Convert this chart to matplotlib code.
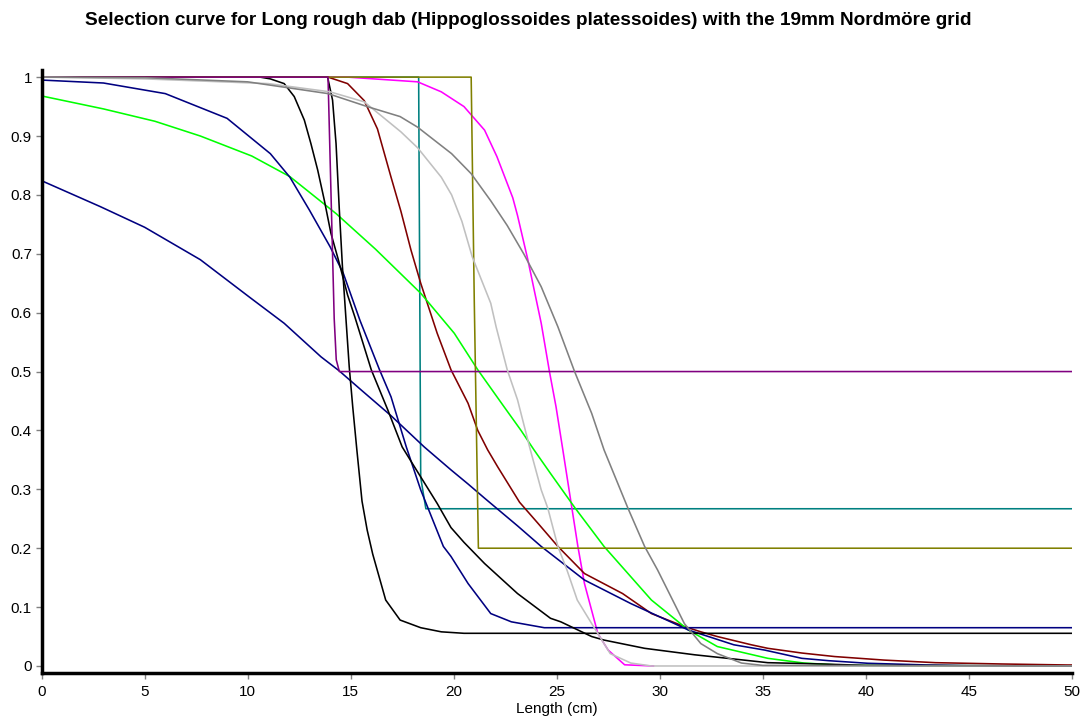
import matplotlib
matplotlib.use('Agg')
import matplotlib.pyplot as plt

plt.rcParams['font.family'] = ['Liberation Sans', 'DejaVu Sans']

# Werte (Laenge in cm, Anteil)
navy_hi_x = [0, 3, 6, 9, 11.1, 12.05, 13.0, 14.0, 14.64, 15.45, 16.4, 16.96, 17.7, 18.4, 19.5, 19.87, 20.7, 21.8, 22.8, 24.4, 50]
navy_hi_y = [0.995, 0.99, 0.972, 0.93, 0.87, 0.83, 0.774, 0.712, 0.667, 0.587, 0.503, 0.457, 0.372, 0.299, 0.203, 0.186, 0.14, 0.089, 0.075, 0.065, 0.065]

navy_lo_x = [0, 2.85, 5, 7.7, 10.1, 11.77, 13.56, 14.45, 15.5, 16.96, 18.57, 19.87, 20.7, 21.5, 23.1, 24.25, 26.35, 28.6, 31.4, 33.6, 35.1, 36.9, 38.2, 40.1, 43.0, 45, 50]
navy_lo_y = [0.824, 0.78, 0.745, 0.69, 0.626, 0.582, 0.525, 0.501, 0.469, 0.425, 0.372, 0.333, 0.309, 0.285, 0.238, 0.203, 0.146, 0.106, 0.061, 0.036, 0.027, 0.013, 0.009, 0.0046, 0.0017, 0.0005, 0]

green_x = [0, 3, 5.5, 7.7, 10.2, 12.05, 14.3, 16.2, 18.4, 20.03, 21.17, 22.45, 23.27, 23.9, 24.7, 25.9, 27.3, 29.6, 31.4, 32.8, 35.25, 37, 39, 50]
green_y = [0.968, 0.946, 0.925, 0.9, 0.866, 0.831, 0.768, 0.708, 0.633, 0.565, 0.503, 0.44, 0.40, 0.367, 0.327, 0.268, 0.203, 0.112, 0.061, 0.033, 0.013, 0.005, 0.001, 0]

blackA_x = [0, 10.6, 11.1, 11.77, 12.26, 12.75, 13.07, 13.4, 13.72, 14.04, 14.4, 14.85, 15.2, 16.0, 16.8, 17.5, 18.1, 19.2, 19.87, 20.5, 21.5, 23.1, 24.7, 25.2, 26.7, 27.3, 29.27, 31.7, 33.3, 35.25, 37.85, 40, 50]
blackA_y = [1, 1, 0.997, 0.989, 0.967, 0.927, 0.887, 0.842, 0.791, 0.735, 0.69, 0.63, 0.593, 0.503, 0.435, 0.372, 0.338, 0.276, 0.235, 0.21, 0.174, 0.123, 0.081, 0.075, 0.05, 0.044, 0.030, 0.019, 0.013, 0.0056, 0.0034, 0.001, 0]

blackB_x = [0, 13.88, 14.12, 14.29, 14.45, 14.6, 14.77, 14.93, 15.1, 15.3, 15.55, 15.8, 16.07, 16.7, 17.4, 18.4, 19.4, 20.5, 50]
blackB_y = [1, 1, 0.961, 0.887, 0.774, 0.678, 0.59, 0.508, 0.44, 0.367, 0.28, 0.231, 0.19, 0.112, 0.078, 0.065, 0.058, 0.0555, 0.0555]

darkred_x = [0, 13.9, 14.85, 15.66, 16.3, 16.96, 17.44, 17.93, 18.4, 19.2, 19.87, 20.7, 21.17, 21.65, 22.14, 23.2, 24.1, 25.06, 26.35, 28.2, 29.6, 31.2, 32.0, 32.8, 34.45, 35.25, 36.9, 38.5, 40.9, 43.4, 46.6, 49.8, 50]
darkred_y = [1, 1, 0.989, 0.96, 0.912, 0.83, 0.772, 0.706, 0.65, 0.565, 0.503, 0.446, 0.40, 0.367, 0.338, 0.278, 0.242, 0.203, 0.157, 0.123, 0.089, 0.067, 0.058, 0.050, 0.036, 0.030, 0.022, 0.016, 0.010, 0.0056, 0.0034, 0.0017, 0.0017]

grey_x = [0, 5, 10, 13.9, 15.8, 17.4, 18.25, 19.9, 20.85, 21.8, 22.6, 23.4, 24.25, 25.06, 25.87, 26.7, 27.3, 28.46, 29.27, 29.9, 31.2, 32.0, 32.8, 33.97, 35, 50]
grey_y = [1, 0.999, 0.992, 0.972, 0.95, 0.933, 0.915, 0.87, 0.836, 0.79, 0.748, 0.70, 0.644, 0.576, 0.50, 0.429, 0.367, 0.268, 0.203, 0.163, 0.072, 0.038, 0.021, 0.005, 0.001, 0]

lgrey_x = [0, 5, 11, 14, 15.66, 17.44, 18.25, 19.4, 19.9, 20.4, 20.9, 21.8, 22.06, 22.6, 23.1, 23.7, 24.25, 24.57, 25.06, 25.5, 26.0, 26.7, 27.6, 28.6, 29.6, 50]
lgrey_y = [1, 0.997, 0.989, 0.975, 0.958, 0.907, 0.88, 0.83, 0.8, 0.755, 0.695, 0.616, 0.576, 0.503, 0.452, 0.37, 0.299, 0.268, 0.203, 0.163, 0.112, 0.072, 0.021, 0.005, 0, 0]

magenta_x = [0, 14.85, 18.25, 19.4, 20.5, 21.5, 22.1, 22.87, 23.1, 23.6, 23.9, 24.25, 24.65, 24.97, 25.3, 25.74, 26.03, 26.35, 27.0, 27.5, 28.3, 29.7]
magenta_y = [1, 1, 0.992, 0.975, 0.95, 0.91, 0.865, 0.795, 0.765, 0.69, 0.64, 0.582, 0.50, 0.44, 0.367, 0.268, 0.203, 0.14, 0.055, 0.027, 0.002, 0]

purple_x = [0, 13.9, 14.2, 14.3, 14.45, 50]
purple_y = [1, 1, 0.59, 0.52, 0.5, 0.5]

teal_x = [0, 18.3, 18.4, 18.65, 50]
teal_y = [1, 1, 0.32, 0.267, 0.267]

olive_x = [0, 20.85, 21.0, 21.2, 50]
olive_y = [1, 1, 0.62, 0.2, 0.2]

y_ticks = [0, 0.1, 0.2, 0.3, 0.4, 0.5, 0.6, 0.7, 0.8, 0.9, 1]
y_labels = ['0', '0.1', '0.2', '0.3', '0.4', '0.5', '0.6', '0.7', '0.8', '0.9', '1']
x_ticks = [0, 5, 10, 15, 20, 25, 30, 35, 40, 45, 50]

fig = plt.figure(figsize=(10.83, 7.2), dpi=100)
ax = fig.add_axes([0.0385, 0.0657, 0.951, 0.837])

lw = 1.15
ax.plot(teal_x, teal_y, color='#008080', lw=lw)
ax.plot(magenta_x, magenta_y, color='#FF00FF', lw=lw)
ax.plot(darkred_x, darkred_y, color='#800000', lw=lw)
ax.plot(green_x, green_y, color='#00FF00', lw=lw)
ax.plot(navy_lo_x, navy_lo_y, color='#000080', lw=lw)
ax.plot(navy_hi_x, navy_hi_y, color='#000080', lw=lw)
ax.plot(blackA_x, blackA_y, color='black', lw=lw)
ax.plot(blackB_x, blackB_y, color='black', lw=lw)
ax.plot(olive_x, olive_y, color='#808000', lw=lw)
ax.plot(purple_x, purple_y, color='#800080', lw=lw)
ax.plot(lgrey_x, lgrey_y, color='#C0C0C0', lw=lw)
ax.plot(grey_x, grey_y, color='#808080', lw=lw)

ax.set_xlim(0, 50)
ax.set_ylim(-0.0114, 1.012)
ax.set_xticks(x_ticks)
ax.set_yticks(y_ticks)
ax.set_yticklabels(y_labels)
ax.tick_params(axis='both', color='#808080', length=4, width=1, labelsize=11)
ax.tick_params(axis='x', pad=5)
ax.tick_params(axis='y', pad=3)

for s in ['top', 'right']:
    ax.spines[s].set_visible(False)
for s in ['left', 'bottom']:
    ax.spines[s].set_linewidth(2.5)

ax.set_xlabel('Length (cm)', fontsize=11, labelpad=2)
fig.text(0.488, 0.971, 'Selection curve for Long rough dab (Hippoglossoides platessoides) with the 19mm Nordmöre grid',
         ha='center', va='center', fontsize=13.7, fontweight='bold')

fig.savefig('out.png', dpi=100)
